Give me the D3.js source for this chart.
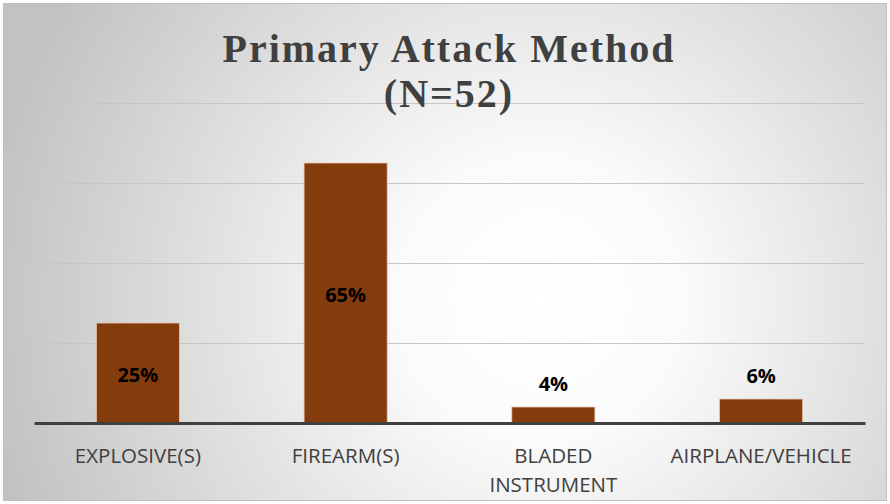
<!DOCTYPE html>
<html>
<head>
<meta charset="utf-8">
<script src="https://cdn.jsdelivr.net/npm/d3@7/dist/d3.min.js"></script>
<style>
html,body{margin:0;padding:0;background:#fff;}
svg{display:block;}
</style>
</head>
<body>
<svg id="chart" width="890" height="504"></svg>
<script>
const categories = ["EXPLOSIVE(S)", "FIREARM(S)", "BLADED INSTRUMENT", "AIRPLANE/VEHICLE"];
const categoryLines = [["EXPLOSIVE(S)"], ["FIREARM(S)"], ["BLADED", "INSTRUMENT"], ["AIRPLANE/VEHICLE"]];
const values = [25, 65, 4, 6];
const valueLabels = ["25%", "65%", "4%", "6%"];
const gridTicks = [0, 20, 40, 60, 80];
const titleLines = ["Primary Attack Method", "(N=52)"];

(function () {
const W = 890, H = 504;
const svg = d3.select("#chart");
const defs = svg.append("defs");
const grad = defs.append("radialGradient").attr("id", "bg")
  .attr("gradientUnits", "userSpaceOnUse")
  .attr("cx", 540).attr("cy", 300).attr("r", 560);
grad.append("stop").attr("offset", "0").attr("stop-color", "#ffffff");
grad.append("stop").attr("offset", "0.25").attr("stop-color", "#fbfbfb");
grad.append("stop").attr("offset", "1").attr("stop-color", "#c2c2c2");

svg.append("rect").attr("x", 0).attr("y", 0).attr("width", W).attr("height", H).attr("fill", "#ffffff");
svg.append("rect").attr("x", 3.5).attr("y", 3.5).attr("width", 883).attr("height", 497)
  .attr("fill", "url(#bg)").attr("stroke", "#bfbfbf").attr("stroke-width", 1);

const pLeft = 34, pRight = 865, pTop = 103, pBottom = 423;
const x = d3.scaleBand().domain(categories).range([pLeft, pRight]).paddingInner(0.6).paddingOuter(0.3);
const y = d3.scaleLinear().domain([0, 80]).range([pBottom, pTop]);

// gridlines
svg.append("g").selectAll("line").data(gridTicks.filter(d => d > 0)).join("line")
  .attr("x1", pLeft).attr("x2", pRight)
  .attr("y1", d => Math.round(y(d)) + 0.5).attr("y2", d => Math.round(y(d)) + 0.5)
  .attr("stroke", "#c6c6c6").attr("stroke-width", 1);

// bars
svg.append("g").selectAll("rect").data(values).join("rect")
  .attr("x", (d, i) => x(categories[i]))
  .attr("y", d => y(d))
  .attr("width", x.bandwidth())
  .attr("height", d => pBottom - y(d))
  .attr("fill", "#843c0c")
  .attr("stroke", "#e9c9b4").attr("stroke-width", 0.8);

// baseline axis
const xAxis = d3.axisBottom(x).tickSize(0).tickFormat("");
const ax = svg.append("g").attr("transform", `translate(0,${pBottom})`).call(xAxis);
ax.select(".domain").attr("stroke", "#404040").attr("stroke-width", 3);

// category labels
const cat = svg.append("g").selectAll("text").data(categoryLines).join("text")
  .attr("x", (d, i) => x(categories[i]) + x.bandwidth() / 2)
  .attr("y", 463)
  .attr("text-anchor", "middle")
  .attr("font-family", "'Open Sans', 'Noto Sans', sans-serif")
  .attr("font-size", 20.5)
  .attr("fill", "#404040");
cat.selectAll("tspan").data(d => d).join("tspan")
  .attr("x", function () { return d3.select(this.parentNode).attr("x"); })
  .attr("dy", (d, i) => i === 0 ? 0 : 29)
  .text(d => d);

// value labels
svg.append("g").selectAll("text").data(values).join("text")
  .attr("x", (d, i) => x(categories[i]) + x.bandwidth() / 2)
  .attr("y", d => (pBottom - y(d)) > 40 ? (y(d) + pBottom) / 2 + 9 : y(d) - 16)
  .attr("text-anchor", "middle")
  .attr("font-family", "'Open Sans', 'Noto Sans', sans-serif")
  .attr("font-weight", "bold")
  .attr("font-size", 20)
  .attr("fill", "#000")
  .text((d, i) => valueLabels[i]);

// title
svg.append("g").selectAll("text").data(titleLines).join("text")
  .attr("x", 449)
  .attr("y", (d, i) => 62 + i * 45)
  .attr("text-anchor", "middle")
  .attr("font-family", "'Liberation Serif', 'DejaVu Serif', serif")
  .attr("font-weight", "bold")
  .attr("font-size", 40)
  .attr("letter-spacing", 2)
  .attr("fill", "#404040")
  .text(d => d);
})();
</script>
</body>
</html>
